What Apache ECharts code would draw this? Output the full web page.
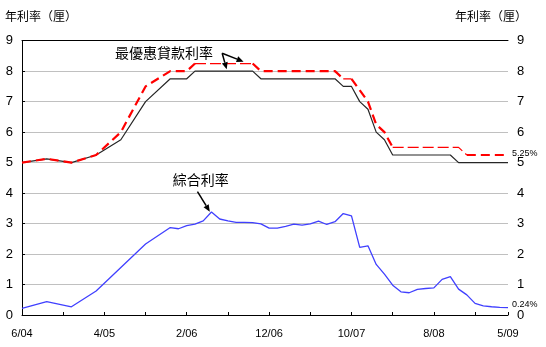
<!DOCTYPE html>
<html>
<head>
<meta charset="utf-8">
<script src="https://cdn.jsdelivr.net/npm/echarts@6/dist/echarts.min.js"></script>
<style>
  html, body { margin: 0; padding: 0; background: #fff; }
  #chart { width: 546px; height: 347px; }
</style>
</head>
<body>
<div id="chart"></div>
<script>
// Best lending rate (two quotes) and composite interest rate, % per annum

const primeLowDates = ['2004-06','2004-09','2004-12','2005-03','2005-06','2005-09','2005-12','2006-02','2006-03',
  '2006-10','2006-11','2007-08','2007-09','2007-10','2007-11','2007-12','2008-01','2008-02','2008-03',
  '2008-10','2008-11','2009-05'];
const primeLowRates = [5.0,5.125,5.0,5.25,5.75,7.0,7.75,7.75,8.0,
  8.0,7.75,7.75,7.5,7.5,7.0,6.75,6.0,5.75,5.25,
  5.25,5.0,5.0];

const primeHighDates = ['2004-06','2004-09','2004-12','2005-03','2005-06','2005-09','2005-12','2006-02','2006-03',
  '2006-10','2006-11','2007-08','2007-09','2007-10','2007-12','2008-01','2008-02','2008-03',
  '2008-11','2008-12','2009-05'];
const primeHighRates = [5.0,5.125,5.0,5.25,6.0,7.5,8.0,8.0,8.25,
  8.25,8.0,8.0,7.75,7.75,7.0,6.25,6.0,5.5,
  5.5,5.25,5.25];

const compositeDates = ['2004-06','2004-09','2004-12','2005-03','2005-06','2005-09','2005-12',
  '2006-01','2006-02','2006-03','2006-04','2006-05','2006-06','2006-07','2006-08','2006-09','2006-10','2006-11','2006-12',
  '2007-01','2007-02','2007-03','2007-04','2007-05','2007-06','2007-07','2007-08','2007-09','2007-10','2007-11','2007-12',
  '2008-01','2008-02','2008-03','2008-04','2008-05','2008-06','2008-07','2008-08','2008-09','2008-10','2008-11','2008-12',
  '2009-01','2009-02','2009-03','2009-04','2009-05'];
const compositeRates = [0.22,0.44,0.27,0.79,1.56,2.33,2.87,
  2.83,2.93,2.98,3.09,3.38,3.15,3.09,3.04,3.04,3.03,2.99,2.85,
  2.85,2.91,2.98,2.95,2.99,3.08,2.97,3.06,3.33,3.25,2.22,2.27,
  1.66,1.34,0.98,0.76,0.73,0.84,0.87,0.89,1.17,1.26,0.85,0.66,
  0.38,0.30,0.27,0.25,0.24];

const rateTicks = [0,1,2,3,4,5,6,7,8,9];
const axisTitle = '年利率（厘）';
const primeName = '最優惠貸款利率';
const compositeName = '綜合利率';

// Stretches of the upper prime quote drawn with a finer dash
const fineDashSpans = [['2006-03','2006-10'], ['2007-09','2007-10'], ['2008-03','2008-12']];

// ---- helpers ----
const START_YEAR = 2004, START_MONTH = 6;
const monthIndex = d => { const [y, m] = d.split('-').map(Number); return (y - START_YEAR) * 12 + (m - START_MONTH); };
const monthLabel = v => {
  const t = START_MONTH - 1 + v;
  const yy = String((START_YEAR + Math.floor(t / 12)) % 100).padStart(2, '0');
  return ((t % 12) + 1) + '/' + yy;
};
const toPairs = (dates, vals) => dates.map((d, i) => [monthIndex(d), vals[i]]);
const LAST_MONTH = monthIndex(compositeDates[compositeDates.length - 1]);

const FONT = 'Liberation Sans, Arial, sans-serif';
const CJK = 'Noto Sans CJK TC, sans-serif';

// split the upper prime line into runs of coarse / fine dashes
function dashRuns(pairs) {
  const spans = fineDashSpans.map(s => s.map(monthIndex));
  const isFine = (a, b) => spans.some(([s, e]) => a[0] >= s && b[0] <= e);
  const runs = [];
  for (let i = 0; i < pairs.length - 1; i++) {
    const fine = isFine(pairs[i], pairs[i + 1]);
    const last = runs[runs.length - 1];
    if (last && last.fine === fine) last.pts.push(pairs[i + 1]);
    else runs.push({ fine, pts: [pairs[i], pairs[i + 1]] });
  }
  return runs;
}

const highRuns = dashRuns(toPairs(primeHighDates, primeHighRates));

const series = [
  {
    type: 'line', name: primeName + '(低)', data: toPairs(primeLowDates, primeLowRates),
    symbol: 'none', z: 3,
    lineStyle: { color: '#262626', width: 1.2 }
  },
  ...highRuns.map((r, k) => ({
    type: 'line', name: primeName, data: r.pts, symbol: 'none', z: 4,
    lineStyle: r.fine ? { color: '#ff0000', width: 1.2, type: [11, 4] }
                      : { color: '#ff0000', width: 2.2, type: [9, 5] },
    endLabel: k === highRuns.length - 1 ? {
      show: true, distance: 4, offset: [0, -1.5], fontSize: 9, fontFamily: FONT, color: '#000',
      formatter: p => p.value[1].toFixed(2) + '%'
    } : undefined
  })),
  {
    type: 'line', name: compositeName, data: toPairs(compositeDates, compositeRates),
    symbol: 'none', z: 3,
    lineStyle: { color: '#4040ff', width: 1.3 },
    endLabel: {
      show: true, distance: 4, offset: [0, -3], fontSize: 9, fontFamily: FONT, color: '#000',
      formatter: p => p.value[1].toFixed(2) + '%'
    }
  }
];

const yAxisBase = {
  type: 'value', min: rateTicks[0], max: rateTicks[rateTicks.length - 1], interval: 1,
  axisLine: { show: true, lineStyle: { color: '#000', width: 1 } },
  axisLabel: { color: '#000', fontSize: 13, fontFamily: FONT, margin: 9 }
};

const chart = echarts.init(document.getElementById('chart'));
chart.setOption({
  animation: false,
  backgroundColor: '#fff',
  grid: { left: 22, right: 38, top: 40.7, bottom: 32 },
  xAxis: [
    {
      type: 'value', min: 0, max: LAST_MONTH, interval: 5, position: 'bottom',
      axisLine: { show: true, onZero: false, lineStyle: { color: '#000', width: 1 } },
      axisTick: { show: true, inside: true, length: 3, lineStyle: { color: '#000' } },
      axisLabel: {
        color: '#000', fontSize: 11, fontFamily: FONT, margin: 13,
        showMinLabel: true, showMaxLabel: true,
        formatter: v => (v % 10 === 0 || v === LAST_MONTH) ? monthLabel(v) : ''
      },
      splitLine: { show: false }
    },
    {
      type: 'value', min: 0, max: LAST_MONTH, position: 'top',
      axisLine: { show: true, onZero: false, lineStyle: { color: '#000', width: 1 } },
      axisTick: { show: false }, axisLabel: { show: false }, splitLine: { show: false }
    }
  ],
  yAxis: [
    Object.assign({}, yAxisBase, {
      position: 'left',
      axisTick: { show: false },
      splitLine: { show: true, showMinLine: false, showMaxLine: false, lineStyle: { color: '#c0c0c0', width: 1 } }
    }),
    Object.assign({}, yAxisBase, {
      position: 'right',
      axisTick: { show: true, length: 3, lineStyle: { color: '#000' } },
      splitLine: { show: false }
    })
  ],
  series
});

// ---- annotations, anchored in data space ----
const px = (m, v) => chart.convertToPixel({ xAxisIndex: 0, yAxisIndex: 0 }, [m, v]);

function arrow(from, to) {
  const [x1, y1] = px(...from), [x2, y2] = px(...to);
  const dx = x2 - x1, dy = y2 - y1, len = Math.hypot(dx, dy);
  const ux = dx / len, uy = dy / len, head = 7, half = 3;
  const bx = x2 - ux * head, by = y2 - uy * head;
  return [
    { type: 'line', shape: { x1, y1, x2: bx, y2: by }, style: { stroke: '#000', lineWidth: 1.5 }, z: 10 },
    { type: 'polygon', shape: { points: [[x2, y2], [bx - uy * half, by + ux * half], [bx + uy * half, by - ux * half]] },
      style: { fill: '#000' }, z: 10 }
  ];
}

function label(text, m, v, size) {
  const [x, y] = px(m, v);
  return { type: 'text', x, y, z: 10,
    style: { text, fill: '#000', font: `${size}px ${CJK}`, textAlign: 'center', textVerticalAlign: 'middle' } };
}

chart.setOption({
  graphic: [
    { type: 'text', left: 5, top: 10, style: { text: axisTitle, fill: '#000', font: `12px ${CJK}` } },
    { type: 'text', right: 19, top: 10, style: { text: axisTitle, fill: '#000', font: `12px ${CJK}` } },
    label(primeName, 17.25, 8.61, 14),
    ...arrow([24.3, 8.59], [26.9, 8.31]),
    ...arrow([24.3, 8.59], [24.85, 8.06]),
    label(compositeName, 21.7, 4.43, 14),
    ...arrow([21.3, 4.05], [22.8, 3.39])
  ]
});
</script>
</body>
</html>
